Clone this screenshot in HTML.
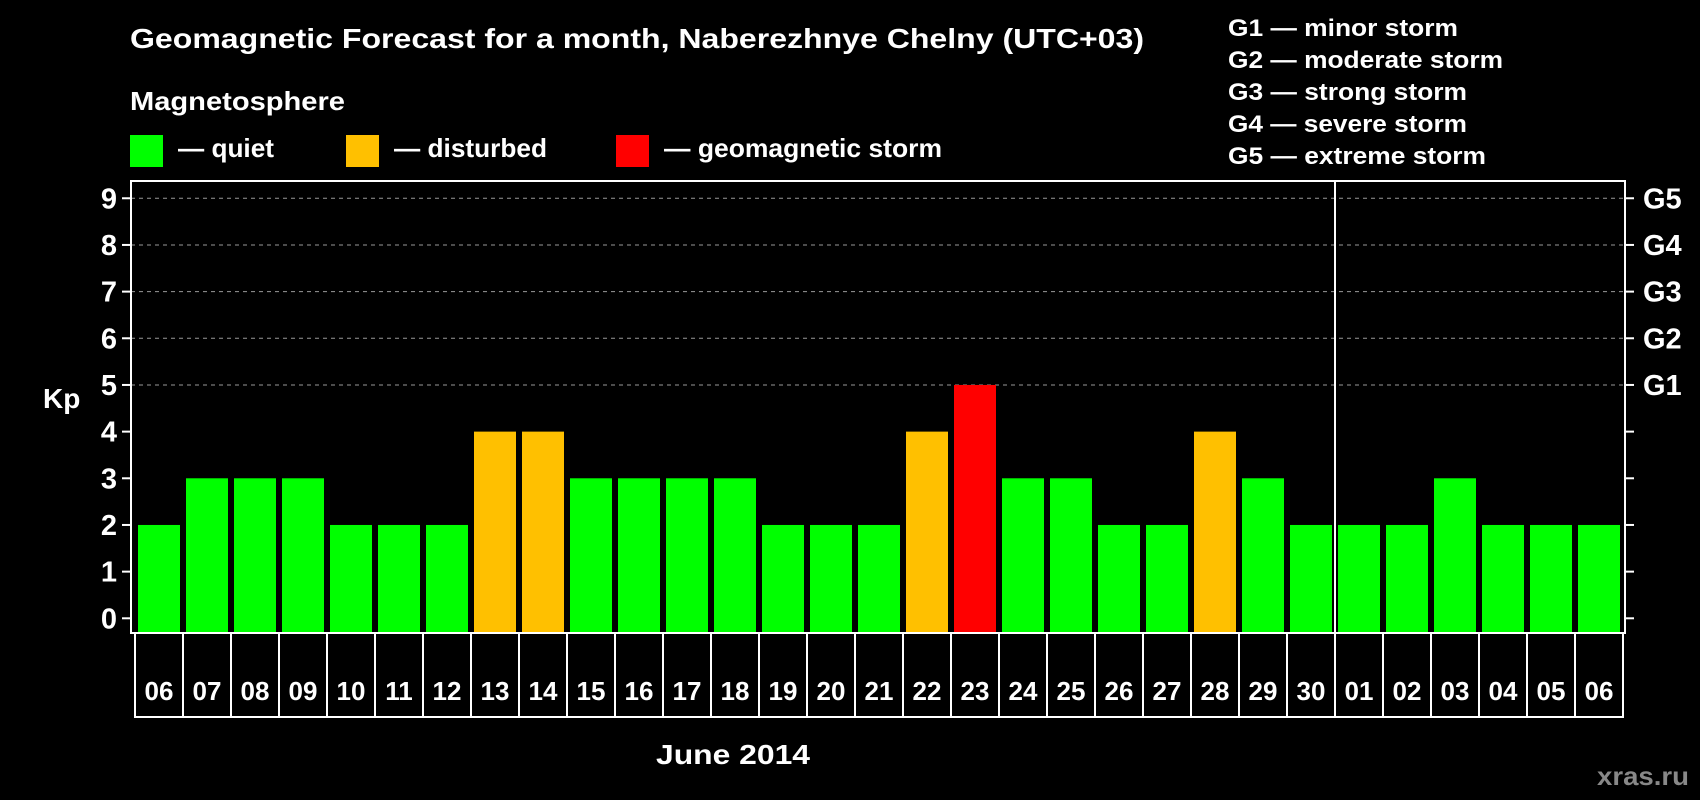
<!DOCTYPE html>
<html><head><meta charset="utf-8"><style>
body{margin:0;background:#000;width:1700px;height:800px;overflow:hidden}
svg{display:block}
text{font-family:"Liberation Sans",sans-serif;font-weight:bold;fill:#fff}
</style></head><body>
<svg id="chart" width="1700" height="800">
<text x="130" y="48" font-size="28" textLength="1014" lengthAdjust="spacingAndGlyphs">Geomagnetic Forecast for a month, Naberezhnye Chelny (UTC+03)</text>
<text x="130" y="110" font-size="26" textLength="215" lengthAdjust="spacingAndGlyphs">Magnetosphere</text>
<g>
<rect x="130" y="135" width="33" height="32" fill="#00ff00"/>
<text x="178" y="157" font-size="26" textLength="96" lengthAdjust="spacingAndGlyphs">— quiet</text>
<rect x="346" y="135" width="33" height="32" fill="#ffc000"/>
<text x="394" y="157" font-size="26" textLength="153" lengthAdjust="spacingAndGlyphs">— disturbed</text>
<rect x="616" y="135" width="33" height="32" fill="#ff0000"/>
<text x="664" y="157" font-size="26" textLength="278" lengthAdjust="spacingAndGlyphs">— geomagnetic storm</text>
</g>
<g>
<text x="1228" y="36" font-size="24" textLength="230" lengthAdjust="spacingAndGlyphs">G1 — minor storm</text>
<text x="1228" y="68" font-size="24" textLength="275" lengthAdjust="spacingAndGlyphs">G2 — moderate storm</text>
<text x="1228" y="100" font-size="24" textLength="239" lengthAdjust="spacingAndGlyphs">G3 — strong storm</text>
<text x="1228" y="132" font-size="24" textLength="239" lengthAdjust="spacingAndGlyphs">G4 — severe storm</text>
<text x="1228" y="164" font-size="24" textLength="258" lengthAdjust="spacingAndGlyphs">G5 — extreme storm</text>
</g>
<text x="43" y="408" font-size="28">Kp</text>
<text x="656" y="764" font-size="28" textLength="154" lengthAdjust="spacingAndGlyphs">June 2014</text>
<text x="1597" y="785" font-size="26" textLength="92" lengthAdjust="spacingAndGlyphs" style="fill:#888">xras.ru</text>
<g id="plot"></g>
</svg>
<script>
const days=["06","07","08","09","10","11","12","13","14","15","16","17","18","19","20","21","22","23","24","25","26","27","28","29","30","01","02","03","04","05","06"];
const kp=[2,3,3,3,2,2,2,4,4,3,3,3,3,2,2,2,4,5,3,3,2,2,4,3,2,2,2,3,2,2,2];
const yTicks=[0,1,2,3,4,5,6,7,8,9];
const gLabels=["G1","G2","G3","G4","G5"];
const gLevels=[5,6,7,8,9];
const monthBreak=25;
const NS="http://www.w3.org/2000/svg";
const g=document.getElementById('plot');
const L=131,R=1625,T=181,B=633,slot0=135,slotW=48;
const y=v=>618.3-v*46.67;
const xs=i=>slot0+i*slotW;
function mk(t,a){const e=document.createElementNS(NS,t);for(const k in a)e.setAttribute(k,a[k]);g.appendChild(e);return e;}
gLevels.forEach(v=>{const e=mk('line',{x1:L,x2:R,y1:y(v),y2:y(v),stroke:'#999','stroke-dasharray':'4,4','stroke-width':1});

});
yTicks.forEach(v=>{const t=mk('line',{x1:L-9,x2:L,y1:y(v),y2:y(v),stroke:'#fff','stroke-width':2});


const r=mk('line',{x1:R,x2:R+9,y1:y(v),y2:y(v),stroke:'#fff','stroke-width':2});


const l=mk('text',{x:117,y:y(v)+10,'font-size':29,'text-anchor':'end'});l.textContent=v;

});
gLabels.forEach((s,i)=>{const l=mk('text',{x:1643,y:y(gLevels[i])+10,'font-size':29});l.textContent=s;

});
kp.forEach((v,i)=>{const c=v>=5?'#ff0000':v>=4?'#ffc000':'#00ff00';
const b=mk('rect',{x:xs(i)+3,y:y(v),width:42,height:y(0)-y(v)+15,fill:c});


const bx=mk('rect',{x:xs(i),y:B,width:slotW,height:84,fill:'none',stroke:'#fff','stroke-width':2});


const l=mk('text',{x:xs(i)+slotW/2,y:700,'font-size':26,'text-anchor':'middle'});l.textContent=days[i];

});
const f=mk('rect',{x:L,y:T,width:R-L,height:B-T,fill:'none',stroke:'#fff','stroke-width':2});


const d=mk('line',{x1:xs(monthBreak),x2:xs(monthBreak),y1:T,y2:B,stroke:'#fff','stroke-width':2});


</script>
</body></html>
